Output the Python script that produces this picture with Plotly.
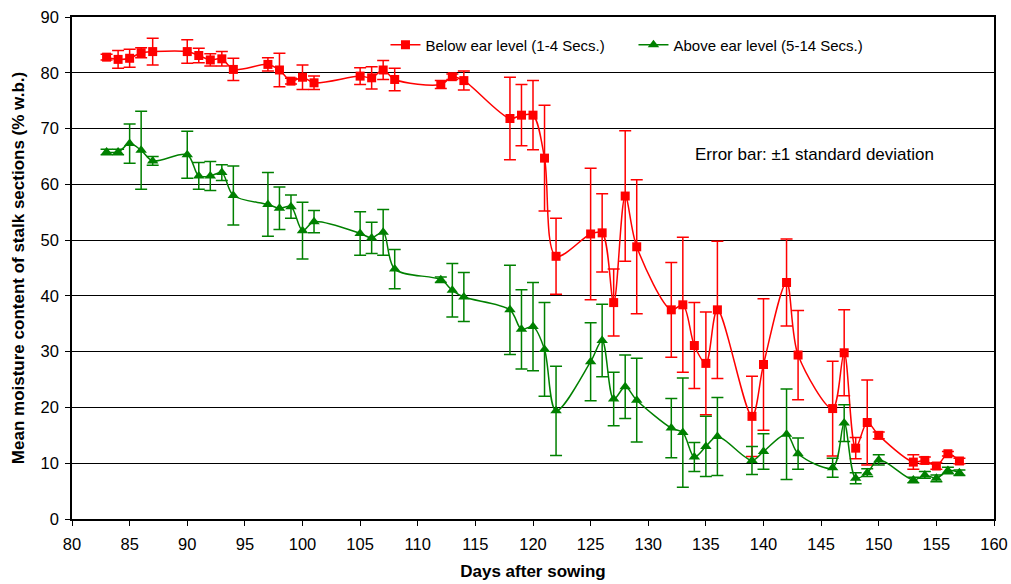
import plotly.graph_objects as go

# Below ear level (red squares)
below_days = [83, 84, 85, 86, 87, 90, 91, 92, 93, 94, 97, 98, 99, 100, 101,
              105, 106, 107, 108, 112, 113, 114, 118, 119, 120, 121, 122,
              125, 126, 127, 128, 129, 132, 133, 134, 135, 136, 139, 140,
              142, 143, 146, 147, 148, 149, 150, 153, 154, 155, 156, 157]
below_mc = [82.8, 82.4, 82.6, 83.6, 83.8, 83.8, 83.1, 82.3, 82.5, 80.6, 81.5, 80.5, 78.5, 79.2, 78.2,
            79.4, 79.1, 80.5, 78.8, 77.9, 79.3, 78.6, 71.8, 72.4, 72.4, 64.7, 47.1,
            51.1, 51.3, 38.8, 57.9, 48.8, 37.5, 38.4, 31.1, 27.9, 37.5, 18.4, 27.7,
            42.4, 29.4, 19.8, 29.8, 12.7, 17.3, 15.0, 10.2, 10.5, 9.5, 11.7, 10.4]
below_sd = [0.5, 1.6, 1.6, 0.9, 2.4, 2.1, 1.3, 1.1, 1.3, 2.0, 1.2, 3.0, 0.5, 2.2, 1.2,
            1.5, 2.0, 1.7, 2.0, 0.7, 0.5, 1.7, 7.4, 5.5, 6.2, 9.5, 6.8,
            11.8, 7.0, 6.0, 11.7, 12.0, 8.5, 12.1, 7.7, 9.2, 12.3, 7.2, 11.8,
            7.8, 8.0, 8.5, 7.7, 1.9, 7.6, 0.6, 1.3, 0.6, 0.6, 0.4, 0.5]

# Above ear level (green triangles)
above_days = [83, 84, 85, 86, 87, 90, 91, 92, 93, 94, 97, 98, 99, 100, 101,
              105, 106, 107, 108, 112, 113, 114, 118, 119, 120, 121, 122,
              125, 126, 127, 128, 129, 132, 133, 134, 135, 136, 139, 140,
              142, 143, 146, 147, 148, 149, 150, 153, 154, 155, 156, 157]
above_mc = [65.8, 65.8, 67.3, 66.1, 64.2, 65.3, 61.5, 61.5, 62.1, 58.0, 56.4, 55.7, 56.0, 51.7, 53.3,
            51.2, 50.4, 51.4, 44.8, 42.9, 41.0, 39.8, 37.5, 34.0, 34.5, 30.4, 19.4,
            28.2, 32.0, 21.5, 23.7, 21.3, 16.3, 15.5, 11.1, 13.0, 14.8, 10.5, 12.1,
            15.2, 11.7, 9.2, 17.2, 7.3, 8.3, 10.6, 7.0, 7.9, 7.3, 8.7, 8.3]
above_sd = [0.5, 0.5, 3.5, 7.0, 0.8, 4.2, 2.4, 2.6, 1.4, 5.3, 5.7, 3.8, 2.1, 5.1, 2.0,
            3.9, 2.8, 4.1, 3.5, 0.5, 4.8, 4.4, 8.0, 7.1, 7.9, 8.4, 8.0,
            7.0, 6.5, 4.8, 5.7, 7.5, 5.3, 9.8, 2.6, 5.4, 7.0, 2.5, 3.2,
            8.1, 2.8, 1.7, 3.3, 1.0, 0.7, 0.9, 0.5, 0.6, 0.6, 0.6, 0.5]

FONT = "Liberation Sans, Arial, sans-serif"

fig = go.Figure()
fig.add_trace(go.Scatter(
    x=below_days, y=below_mc, name="Below ear level (1-4 Secs.)",
    mode="lines+markers",
    line=dict(color="#FF0000", width=1.5, shape="spline", smoothing=0.9),
    marker=dict(symbol="square", size=9, color="#FF0000"),
    error_y=dict(type="data", array=below_sd, visible=True,
                 color="#FF0000", thickness=1.5, width=6),
))
fig.add_trace(go.Scatter(
    x=above_days, y=above_mc, name="Above ear level (5-14 Secs.)",
    mode="lines+markers",
    line=dict(color="#008000", width=1.5, shape="spline", smoothing=0.9),
    marker=dict(symbol="triangle-up", size=10, color="#008000"),
    error_y=dict(type="data", array=above_sd, visible=True,
                 color="#008000", thickness=1.5, width=6),
))

fig.add_annotation(
    x=144.4, y=65.3, xref="x", yref="y",
    text="Error bar: \u00b11 standard deviation", showarrow=False,
    font=dict(family=FONT, size=17, color="#000000"),
)

fig.update_layout(
    width=1011, height=584,
    margin=dict(l=72, r=17, t=17, b=65),
    paper_bgcolor="white", plot_bgcolor="white",
    font=dict(family=FONT, size=15, color="#000000"),
    showlegend=True,
    legend=dict(orientation="h", x=0.34, xanchor="left", y=0.944, yanchor="middle",
                bgcolor="rgba(0,0,0,0)", font=dict(family=FONT, size=15),
                itemwidth=30, entrywidth=203, entrywidthmode="pixels"),
    xaxis=dict(
        range=[80, 160], dtick=5, tick0=80, automargin=False,
        showgrid=False, zeroline=False,
        showline=True, linecolor="black", linewidth=1.5, mirror=True,
        ticks="outside", ticklen=5, tickcolor="black",
        tickfont=dict(family=FONT, size=16.5), ticklabelstandoff=4,
        title=dict(text="<b>Days after sowing</b>", font=dict(family=FONT, size=17), standoff=14),
    ),
    yaxis=dict(
        range=[0, 90], dtick=10, tick0=0, automargin=False,
        showgrid=True, gridcolor="black", gridwidth=1, zeroline=False,
        showline=True, linecolor="black", linewidth=1.5, mirror=True,
        ticks="outside", ticklen=5, tickcolor="black",
        tickfont=dict(family=FONT, size=16.5), ticklabelstandoff=3,
        title=dict(text="<b>Mean moisture content of stalk sections (% w.b.)</b>",
                   font=dict(family=FONT, size=17), standoff=12),
    ),
)

fig.write_html("out.html")
